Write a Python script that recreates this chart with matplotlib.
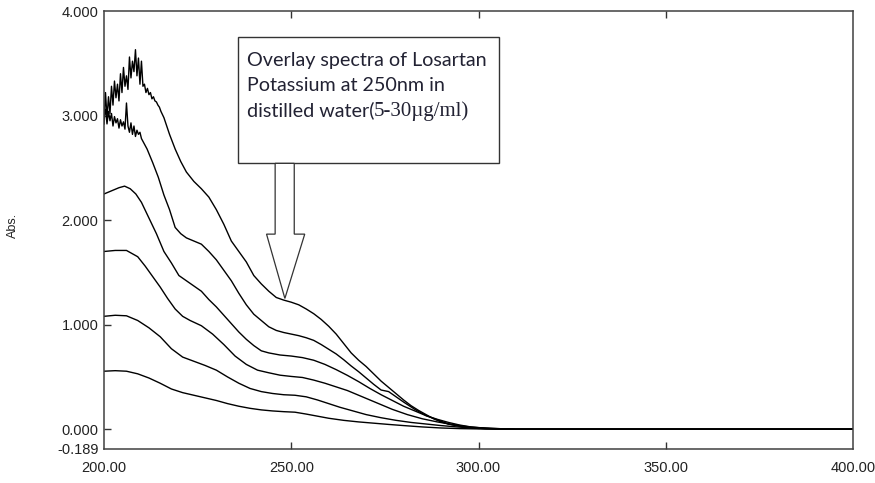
import matplotlib
matplotlib.use("Agg")
import matplotlib.pyplot as plt
from matplotlib.patches import Rectangle, Polygon

# Absorbance spectra of Losartan Potassium, 5-30 ug/ml, read per concentration.
wl_05 = [200, 203, 206, 209, 212, 215, 218, 221, 224, 227, 230, 233, 236, 239,
         242, 245, 248, 251, 254, 257, 260, 264, 268, 272, 276, 280, 285, 290,
         295, 300, 310, 400]
abs_05 = [0.555, 0.56, 0.555, 0.53, 0.49, 0.44, 0.385, 0.35, 0.325, 0.30, 0.275,
          0.245, 0.22, 0.20, 0.185, 0.175, 0.168, 0.163, 0.145, 0.125, 0.105,
          0.085, 0.07, 0.058, 0.046, 0.035, 0.022, 0.012, 0.006, 0.003, 0.0, 0.0]

wl_10 = [200, 203, 206, 209, 212, 215, 218, 221, 224, 227, 230, 233, 236, 239,
         242, 245, 248, 251, 254, 257, 260, 263, 266, 270, 274, 278, 282, 286,
         290, 295, 300, 310, 400]
abs_10 = [1.08, 1.09, 1.085, 1.04, 0.97, 0.885, 0.77, 0.69, 0.65, 0.61, 0.565,
          0.50, 0.44, 0.39, 0.36, 0.342, 0.33, 0.325, 0.31, 0.28, 0.245, 0.21,
          0.18, 0.14, 0.11, 0.085, 0.065, 0.05, 0.035, 0.02, 0.008, 0.0, 0.0]

wl_15 = [200, 203, 206, 209, 211, 213, 215, 217, 219, 221, 223, 226, 229, 232,
         235, 238, 241, 244, 247, 250, 253, 256, 259, 262, 265, 269, 273, 277,
         281, 285, 289, 293, 297, 300, 305, 310, 400]
abs_15 = [1.70, 1.71, 1.71, 1.65, 1.56, 1.46, 1.36, 1.25, 1.15, 1.08, 1.04, 0.99,
          0.91, 0.81, 0.70, 0.62, 0.565, 0.54, 0.517, 0.505, 0.495, 0.47, 0.44,
          0.405, 0.37, 0.31, 0.25, 0.19, 0.14, 0.10, 0.07, 0.045, 0.025, 0.015,
          0.006, 0.0, 0.0]

wl_20 = [200, 202, 204, 205.5, 207, 208.5, 210, 212, 214, 216, 218, 220, 222,
         224, 226, 228, 230, 232, 234, 236, 238, 240, 242, 244, 247, 250, 253,
         256, 259, 262, 265, 268, 271, 274, 277, 280, 283, 286, 289, 292, 295,
         298, 302, 310, 400]
abs_20 = [2.25, 2.28, 2.31, 2.325, 2.30, 2.25, 2.17, 2.02, 1.87, 1.70, 1.59,
          1.47, 1.42, 1.37, 1.32, 1.24, 1.17, 1.09, 1.01, 0.93, 0.86, 0.80, 0.75,
          0.73, 0.71, 0.70, 0.685, 0.66, 0.62, 0.57, 0.515, 0.455, 0.39, 0.33,
          0.275, 0.22, 0.175, 0.13, 0.095, 0.065, 0.04, 0.022, 0.01, 0.0, 0.0]

wl_25 = [200.0, 200.4, 200.8, 201.2, 201.6, 202.0, 202.4, 202.8, 203.2, 203.6,
         204.0, 204.4, 204.8, 205.2, 205.6, 206.0, 206.4, 206.8, 207.2, 207.6,
         208.0, 208.4, 208.8, 209.2, 209.6, 210.0,
         211.5, 213, 214.5, 216, 217.5, 219, 220.5, 222, 224, 226, 228, 230, 232,
         234, 236, 238, 240, 242, 244, 246, 248, 250, 252, 254, 256, 258, 260,
         262, 264, 266, 268, 270, 272, 274, 276, 278, 280, 283, 286, 289, 292,
         295, 298, 302, 310, 400]
abs_25 = [2.98, 3.06, 2.92, 3.04, 2.95, 3.02, 2.90, 2.99, 2.93, 2.97,
          2.88, 2.96, 2.90, 2.94, 2.87, 3.12, 2.90, 2.84, 2.93, 2.82,
          2.90, 2.80, 2.86, 2.82, 2.84, 2.78,
          2.68, 2.55, 2.41, 2.24, 2.10, 1.93, 1.87, 1.83, 1.80, 1.77, 1.70, 1.62,
          1.52, 1.42, 1.30, 1.19, 1.10, 1.04, 0.98, 0.945, 0.925, 0.91, 0.895,
          0.875, 0.85, 0.81, 0.765, 0.72, 0.665, 0.605, 0.55, 0.49, 0.43, 0.375,
          0.36, 0.31, 0.26, 0.19, 0.13, 0.09, 0.05, 0.03, 0.015, 0.006, 0.0, 0.0]

wl_30 = [200.0, 200.4, 200.8, 201.2, 201.6, 202.0, 202.4, 202.8, 203.2, 203.6,
         204.0, 204.4, 204.8, 205.2, 205.6, 206.0, 206.4, 206.8, 207.2, 207.6,
         208.0, 208.4, 208.8, 209.2, 209.6, 210.0, 210.4, 210.8, 211.2, 211.6,
         212.0, 212.4, 212.8, 213.2, 213.6, 214.0, 214.4, 214.8, 215.2,
         216, 217.5, 219, 220.5, 222, 224, 226, 228, 230, 232, 234, 236, 238,
         240, 242, 244, 246, 248, 250, 252, 254, 256, 258, 260, 262, 264, 266,
         268, 270, 272, 274, 276, 278, 280, 282, 284, 286, 288, 290, 292, 294,
         296, 298, 302, 310, 400]
abs_30 = [2.92, 3.22, 2.98, 3.18, 3.02, 3.28, 3.10, 3.33, 3.17, 3.30,
          3.14, 3.40, 3.22, 3.46, 3.28, 3.38, 3.25, 3.56, 3.36, 3.52,
          3.42, 3.63, 3.38, 3.55, 3.30, 3.52, 3.28, 3.30, 3.22, 3.26,
          3.20, 3.22, 3.16, 3.18, 3.14, 3.13, 3.10, 3.08, 3.04,
          2.98, 2.82, 2.68, 2.56, 2.46, 2.37, 2.30, 2.22, 2.10, 1.96, 1.80, 1.70,
          1.60, 1.47, 1.39, 1.32, 1.26, 1.235, 1.215, 1.19, 1.15, 1.105, 1.05,
          0.985, 0.91, 0.82, 0.73, 0.66, 0.60, 0.53, 0.46, 0.40, 0.34, 0.28,
          0.225, 0.18, 0.14, 0.10, 0.07, 0.05, 0.035, 0.022, 0.014, 0.006, 0.0,
          0.0]

spectra = [(wl_05, abs_05), (wl_10, abs_10), (wl_15, abs_15),
           (wl_20, abs_20), (wl_25, abs_25), (wl_30, abs_30)]

x_ticks = [200, 250, 300, 350, 400]
y_ticks = [-0.189, 0.0, 1.0, 2.0, 3.0, 4.0]

label_col = "#222222"
text_col = "#222233"

fig = plt.figure(figsize=(8.75, 4.83), dpi=100)
ax = fig.add_axes([104 / 875, 34 / 483, 749 / 875, 438 / 483])

for wl, a in spectra:
    ax.plot(wl, a, color="black", lw=1.0)

ax.set_xlim(200, 400)
ax.set_ylim(-0.189, 4.0)
ax.set_xticks(x_ticks)
ax.set_xticklabels([f"{t:.2f}" for t in x_ticks])
ax.set_yticks(y_ticks)
ax.set_yticklabels([f"{t:.3f}" for t in y_ticks])

ax.tick_params(axis="both", direction="in", length=5, width=1.0,
               colors="#333333", labelcolor=label_col, labelsize=10.5,
               labelfontfamily="Liberation Sans")
ax.tick_params(axis="x", top=True, pad=9)
ax.tick_params(axis="y", pad=4)
# no tick marks at the axis limits, only their labels
for t in (ax.xaxis.get_major_ticks()[0], ax.xaxis.get_major_ticks()[-1]):
    t.tick1line.set_visible(False)
    t.tick2line.set_visible(False)
ax.yaxis.get_major_ticks()[0].tick1line.set_visible(False)
ax.yaxis.get_major_ticks()[-1].tick1line.set_visible(False)
for ytk in ax.yaxis.get_major_ticks():
    ytk.tick2line.set_visible(False)

for sp in ax.spines.values():
    sp.set_color("#404040")
    sp.set_linewidth(1.1)

fig.text(13 / 875, 1 - 225 / 483, "Abs.", rotation=90, ha="center",
         va="center", fontsize=9, color=label_col, family="Liberation Sans")
fig.text(478 / 875, 2 / 483, "nm", ha="center", va="top", fontsize=8,
         color=label_col, family="Liberation Sans")

# annotation box with block arrow pointing at 250 nm
ax.add_patch(Rectangle((235.9, 2.543), 69.6, 1.205, facecolor="white",
                       edgecolor="#333333", lw=1.0, zorder=4))
arrow_pts = [(245.7, 2.543), (250.8, 2.543), (250.8, 1.866), (253.6, 1.866),
             (248.3, 1.251), (243.4, 1.866), (245.7, 1.866)]
ax.add_patch(Polygon(arrow_pts, closed=True, facecolor="white",
                     edgecolor="#333333", lw=0.9, zorder=4))

tfont = dict(family="Lato", fontsize=14.2, color=text_col, va="baseline",
             ha="left", zorder=5)
ax.text(238.1, 3.474, "Overlay spectra of Losartan", **tfont)
ax.text(238.1, 3.234, "Potassium at 250nm in", **tfont)
t3 = ax.text(238.1, 2.995, "distilled water(", **tfont)

fig.canvas.draw()
bb = t3.get_window_extent(fig.canvas.get_renderer())
x_end = ax.transData.inverted().transform((bb.x1, bb.y0))[0]
ax.text(x_end, 2.995, "5-30\u00b5g/ml)", family="Liberation Serif",
        fontsize=15, color=text_col, va="baseline", ha="left", zorder=5)

fig.savefig("out.png", dpi=100)
